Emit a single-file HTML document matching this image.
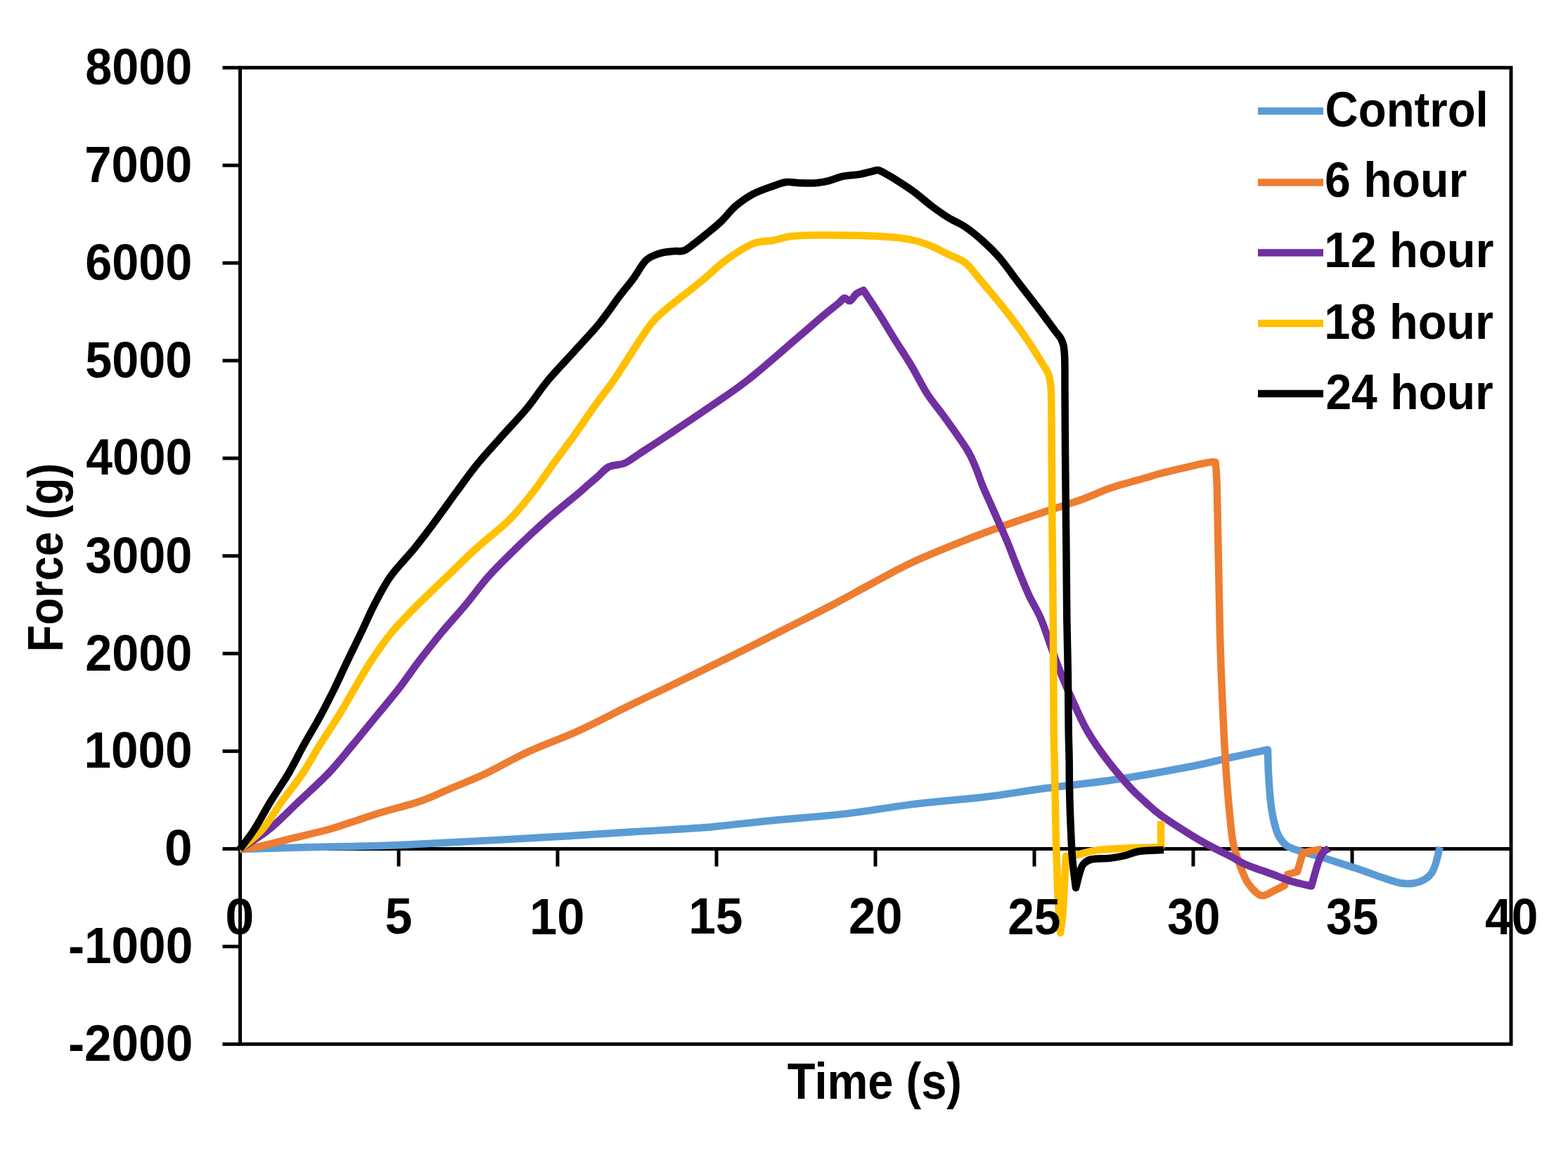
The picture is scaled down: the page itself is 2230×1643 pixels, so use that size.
<!DOCTYPE html>
<html><head><meta charset="utf-8"><title>Force vs Time</title>
<style>html,body{margin:0;padding:0;background:#fff;overflow:hidden;}svg{display:block;}</style>
</head><body>
<svg xmlns="http://www.w3.org/2000/svg" width="2230" height="1643" viewBox="0 0 2230 1643">
<rect x="0" y="0" width="2230" height="1643" fill="#ffffff"/>
<path d="M341.5,96.3 H2149.0 V1485.3 H341.5 Z" fill="none" stroke="#000" stroke-width="5" stroke-linejoin="miter"/>
<line x1="316.5" y1="1485.3" x2="341.5" y2="1485.3" stroke="#000" stroke-width="5"/>
<line x1="316.5" y1="1346.4" x2="341.5" y2="1346.4" stroke="#000" stroke-width="5"/>
<line x1="316.5" y1="1207.5" x2="341.5" y2="1207.5" stroke="#000" stroke-width="5"/>
<line x1="316.5" y1="1068.6" x2="341.5" y2="1068.6" stroke="#000" stroke-width="5"/>
<line x1="316.5" y1="929.7" x2="341.5" y2="929.7" stroke="#000" stroke-width="5"/>
<line x1="316.5" y1="790.8" x2="341.5" y2="790.8" stroke="#000" stroke-width="5"/>
<line x1="316.5" y1="651.9" x2="341.5" y2="651.9" stroke="#000" stroke-width="5"/>
<line x1="316.5" y1="513.0" x2="341.5" y2="513.0" stroke="#000" stroke-width="5"/>
<line x1="316.5" y1="374.1" x2="341.5" y2="374.1" stroke="#000" stroke-width="5"/>
<line x1="316.5" y1="235.2" x2="341.5" y2="235.2" stroke="#000" stroke-width="5"/>
<line x1="316.5" y1="96.3" x2="341.5" y2="96.3" stroke="#000" stroke-width="5"/>
<line x1="341.5" y1="1207.5" x2="2149.0" y2="1207.5" stroke="#000" stroke-width="5"/>
<line x1="567.0" y1="1207.5" x2="567.0" y2="1232.5" stroke="#000" stroke-width="5"/>
<line x1="793.0" y1="1207.5" x2="793.0" y2="1232.5" stroke="#000" stroke-width="5"/>
<line x1="1019.0" y1="1207.5" x2="1019.0" y2="1232.5" stroke="#000" stroke-width="5"/>
<line x1="1245.0" y1="1207.5" x2="1245.0" y2="1232.5" stroke="#000" stroke-width="5"/>
<line x1="1471.0" y1="1207.5" x2="1471.0" y2="1232.5" stroke="#000" stroke-width="5"/>
<line x1="1697.0" y1="1207.5" x2="1697.0" y2="1232.5" stroke="#000" stroke-width="5"/>
<line x1="1923.0" y1="1207.5" x2="1923.0" y2="1232.5" stroke="#000" stroke-width="5"/>
<path d="M341.0,1208.0 C355.2,1207.6 399.4,1206.2 426.1,1205.5 C452.9,1204.8 475.9,1204.6 501.5,1203.9 C527.1,1203.2 531.9,1203.8 580.0,1201.5 C628.1,1199.2 736.7,1193.3 790.0,1190.3 C843.3,1187.3 865.0,1185.5 900.0,1183.3 C935.0,1181.1 966.7,1180.0 1000.0,1177.3 C1033.3,1174.6 1066.7,1170.1 1100.0,1166.9 C1133.3,1163.7 1166.7,1161.7 1200.0,1157.9 C1233.3,1154.1 1266.7,1147.9 1300.0,1143.9 C1333.3,1139.9 1370.0,1137.4 1400.0,1133.8 C1430.0,1130.2 1448.7,1126.5 1480.0,1122.3 C1511.3,1118.1 1551.7,1114.2 1587.6,1108.8 C1623.5,1103.4 1668.3,1095.2 1695.2,1090.0 C1722.1,1084.8 1731.0,1081.7 1749.0,1077.8 C1767.0,1073.9 1794.0,1068.4 1803.0,1066.5 C1803.2,1072.1 1803.3,1087.8 1804.0,1100.0 C1804.7,1112.2 1805.8,1129.2 1807.0,1140.0 C1808.2,1150.8 1809.2,1157.0 1811.0,1165.0 C1812.8,1173.0 1814.8,1181.7 1818.0,1188.0 C1821.2,1194.3 1824.7,1199.2 1830.0,1203.0 C1835.3,1206.8 1842.5,1208.5 1850.0,1211.0 C1857.5,1213.5 1866.7,1215.5 1875.0,1218.0 C1883.3,1220.5 1889.7,1222.7 1900.0,1226.0 C1910.3,1229.3 1926.2,1234.3 1937.0,1238.0 C1947.8,1241.7 1956.0,1245.0 1965.0,1248.0 C1974.0,1251.0 1983.5,1254.6 1991.0,1256.0 C1998.5,1257.4 2004.2,1257.3 2010.0,1256.5 C2015.8,1255.7 2021.7,1253.4 2026.0,1251.0 C2030.3,1248.6 2033.3,1245.8 2036.0,1242.0 C2038.7,1238.2 2040.0,1234.2 2042.0,1228.0 C2044.0,1221.8 2046.8,1208.8 2047.7,1205.0" fill="none" stroke="#5B9BD5" stroke-width="10.5" stroke-linejoin="round" stroke-linecap="butt"/>
<path d="M341.0,1208.0 C346.2,1207.2 359.9,1205.9 372.3,1203.3 C384.7,1200.7 399.5,1196.5 415.3,1192.6 C431.1,1188.7 452.6,1183.9 467.0,1180.0 C481.4,1176.1 488.6,1173.2 501.5,1169.0 C514.4,1164.8 528.6,1159.8 544.5,1155.0 C560.4,1150.2 581.1,1145.5 597.0,1140.0 C612.9,1134.5 624.2,1128.7 640.0,1122.0 C655.8,1115.3 673.3,1108.7 691.6,1100.0 C709.9,1091.3 728.3,1080.0 750.0,1070.0 C771.7,1060.0 798.4,1050.7 821.9,1040.0 C845.4,1029.3 870.5,1015.8 890.9,1005.8 C911.3,995.8 926.2,988.8 944.4,980.0 C962.6,971.2 979.6,963.0 1000.0,953.0 C1020.4,943.0 1046.9,930.0 1066.9,920.0 C1086.9,910.0 1100.3,903.0 1120.0,893.0 C1139.7,883.0 1164.8,870.5 1184.8,860.0 C1204.8,849.5 1221.2,840.0 1240.0,830.0 C1258.8,820.0 1275.9,810.0 1297.4,800.0 C1318.9,790.0 1346.9,778.8 1368.8,770.0 C1390.7,761.2 1408.6,754.7 1428.7,747.5 C1448.8,740.3 1471.0,733.0 1489.6,726.8 C1508.1,720.5 1524.9,715.5 1540.0,710.0 C1555.1,704.5 1565.3,699.0 1580.0,694.0 C1594.7,689.0 1616.8,683.3 1628.3,680.0 C1639.8,676.7 1637.2,677.0 1648.7,674.0 C1660.2,671.0 1685.2,665.1 1697.4,662.3 C1709.6,659.5 1716.5,658.2 1721.7,657.4 C1726.9,656.6 1727.4,657.4 1728.5,657.4 C1728.9,664.5 1729.9,659.6 1731.0,700.0 C1732.1,740.4 1733.6,846.7 1735.0,900.0 C1736.4,953.3 1738.0,986.7 1739.5,1020.0 C1741.0,1053.3 1742.4,1076.7 1744.0,1100.0 C1745.6,1123.3 1747.5,1144.2 1749.0,1160.0 C1750.5,1175.8 1751.5,1185.8 1753.0,1195.0 C1754.5,1204.2 1756.0,1208.3 1758.0,1215.0 C1760.0,1221.7 1762.3,1228.3 1765.0,1235.0 C1767.7,1241.7 1770.3,1249.2 1774.0,1255.0 C1777.7,1260.8 1783.2,1266.8 1787.0,1270.0 C1790.8,1273.2 1792.8,1274.5 1797.0,1274.0 C1801.2,1273.5 1807.0,1269.4 1812.0,1267.0 C1817.0,1264.6 1824.5,1260.8 1827.0,1259.5 C1827.7,1256.9 1830.3,1246.6 1831.0,1244.0 C1833.3,1243.3 1842.7,1240.7 1845.0,1240.0 C1846.3,1235.5 1851.7,1217.5 1853.0,1213.0 C1857.5,1212.2 1875.5,1208.8 1880.0,1208.0" fill="none" stroke="#ED7D31" stroke-width="10.5" stroke-linejoin="round" stroke-linecap="butt"/>
<path d="M341.0,1208.0 C347.9,1203.3 368.6,1191.3 382.6,1180.0 C396.6,1168.7 411.0,1153.3 425.1,1140.0 C439.2,1126.7 454.4,1113.3 467.1,1100.0 C479.8,1086.7 490.1,1073.3 501.3,1060.0 C512.5,1046.7 523.2,1033.3 534.1,1020.0 C545.0,1006.7 556.5,993.3 566.9,980.0 C577.2,966.7 586.0,953.3 596.2,940.0 C606.4,926.7 616.9,913.3 627.9,900.0 C638.9,886.7 651.4,873.3 662.5,860.0 C673.6,846.7 682.8,833.3 694.7,820.0 C706.6,806.7 720.3,793.3 734.0,780.0 C747.7,766.7 762.6,752.7 776.9,740.0 C791.2,727.3 810.1,712.3 820.0,704.0 C829.9,695.7 831.0,694.3 836.0,690.0 C841.0,685.7 845.0,682.3 850.0,678.0 C855.0,673.7 859.7,667.2 866.0,664.0 C872.3,660.8 880.7,662.1 888.0,659.0 C895.3,655.9 899.6,651.8 909.6,645.3 C919.6,638.8 931.9,630.9 948.3,620.0 C964.6,609.1 988.4,593.3 1007.7,580.0 C1027.0,566.7 1043.1,556.7 1064.3,540.0 C1085.5,523.3 1117.2,495.0 1134.8,480.0 C1152.3,465.0 1159.9,458.2 1169.6,450.0 C1179.3,441.8 1187.8,435.3 1193.0,431.0 C1198.2,426.7 1198.3,424.5 1201.0,424.0 C1203.7,423.5 1206.2,429.0 1209.0,428.0 C1211.8,427.0 1214.8,420.5 1218.0,418.0 C1221.2,415.5 1226.3,413.8 1228.0,413.0 C1229.9,415.8 1235.2,423.8 1239.3,430.0 C1243.4,436.2 1247.2,441.7 1252.4,450.0 C1257.6,458.3 1263.4,468.3 1270.7,480.0 C1278.0,491.7 1288.0,506.7 1296.0,520.0 C1304.0,533.3 1310.7,547.8 1318.5,560.0 C1326.3,572.2 1333.5,579.7 1343.0,593.0 C1352.5,606.3 1368.1,627.8 1375.6,640.0 C1383.1,652.2 1384.4,657.7 1388.0,666.0 C1391.6,674.3 1393.3,681.0 1397.0,690.0 C1400.7,699.0 1404.3,706.7 1410.2,720.0 C1416.1,733.3 1426.7,756.7 1432.3,770.0 C1437.9,783.3 1438.9,787.3 1444.0,800.0 C1449.1,812.7 1457.0,832.7 1463.0,846.0 C1469.0,859.3 1474.6,866.6 1480.3,880.0 C1486.0,893.4 1492.1,913.2 1497.0,926.5 C1501.9,939.8 1504.6,947.8 1509.6,960.0 C1514.6,972.2 1520.8,986.7 1527.0,1000.0 C1533.2,1013.3 1538.7,1026.7 1546.5,1040.0 C1554.3,1053.3 1563.6,1066.7 1573.7,1080.0 C1583.8,1093.3 1597.9,1109.8 1607.1,1120.0 C1616.3,1130.2 1621.6,1134.3 1629.0,1141.0 C1636.4,1147.7 1639.9,1151.8 1651.3,1160.0 C1662.7,1168.2 1685.0,1182.3 1697.4,1190.0 C1709.9,1197.7 1717.2,1201.3 1726.0,1206.0 C1734.8,1210.7 1742.3,1214.0 1750.0,1218.0 C1757.7,1222.0 1762.4,1225.8 1772.1,1230.0 C1781.8,1234.2 1797.0,1239.0 1808.0,1243.0 C1819.0,1247.0 1828.5,1251.1 1838.0,1254.0 C1847.5,1256.9 1860.5,1259.4 1865.0,1260.5 C1866.6,1255.0 1871.8,1235.4 1874.6,1227.4 C1877.3,1219.5 1878.9,1216.2 1881.5,1212.8 C1884.1,1209.4 1888.8,1207.9 1890.2,1206.9" fill="none" stroke="#7030A0" stroke-width="10.5" stroke-linejoin="round" stroke-linecap="butt"/>
<path d="M341.0,1208.0 C346.3,1203.3 363.0,1191.3 373.0,1180.0 C383.0,1168.7 391.4,1153.3 401.0,1140.0 C410.6,1126.7 421.6,1113.3 430.5,1100.0 C439.4,1086.7 446.3,1073.3 454.6,1060.0 C462.9,1046.7 472.2,1033.3 480.4,1020.0 C488.6,1006.7 496.0,993.3 503.9,980.0 C511.8,966.7 519.2,953.3 528.0,940.0 C536.8,926.7 545.8,913.3 556.8,900.0 C567.8,886.7 581.1,873.3 594.3,860.0 C607.5,846.7 621.9,833.3 635.8,820.0 C649.6,806.7 662.7,793.3 677.4,780.0 C692.1,766.7 710.4,753.3 723.8,740.0 C737.2,726.7 749.9,710.0 758.0,700.0 C766.1,690.0 767.8,686.7 772.6,680.0 C777.4,673.3 779.5,670.0 786.8,660.0 C794.1,650.0 806.7,633.3 816.2,620.0 C825.7,606.7 834.5,593.3 844.0,580.0 C853.5,566.7 864.3,553.3 873.5,540.0 C882.7,526.7 890.6,513.3 899.4,500.0 C908.2,486.7 918.6,470.0 926.5,460.0 C934.4,450.0 935.2,450.0 947.0,440.0 C958.8,430.0 983.1,411.7 997.4,400.0 C1011.6,388.3 1020.4,378.8 1032.5,370.0 C1044.6,361.2 1058.8,351.7 1070.0,347.0 C1081.2,342.3 1091.0,343.8 1100.0,342.0 C1109.0,340.2 1113.8,337.6 1124.0,336.3 C1134.2,335.1 1144.7,334.7 1161.0,334.5 C1177.3,334.3 1203.8,334.5 1222.0,335.0 C1240.2,335.5 1257.0,336.4 1270.0,337.6 C1283.0,338.8 1291.0,340.0 1300.0,342.0 C1309.0,344.0 1315.8,346.5 1324.0,349.8 C1332.2,353.1 1340.8,358.0 1349.0,362.0 C1357.2,366.0 1365.2,367.7 1373.0,374.0 C1380.8,380.3 1386.3,389.0 1395.6,400.0 C1404.9,411.0 1418.3,426.7 1428.8,440.0 C1439.3,453.3 1449.4,466.7 1458.6,480.0 C1467.8,493.3 1478.6,510.8 1484.2,520.0 C1489.8,529.2 1490.2,528.3 1492.0,535.0 C1493.8,541.7 1494.4,542.5 1495.0,560.0 C1495.6,577.5 1495.5,613.3 1495.7,640.0 C1495.9,666.7 1496.0,693.3 1496.2,720.0 C1496.4,746.7 1496.7,773.3 1497.0,800.0 C1497.3,826.7 1497.5,840.0 1497.8,880.0 C1498.1,920.0 1498.4,1006.7 1498.7,1040.0 C1499.0,1073.3 1499.3,1066.7 1499.6,1080.0 C1499.9,1093.3 1500.0,1100.0 1500.4,1120.0 C1500.8,1140.0 1501.4,1176.7 1502.0,1200.0 C1502.6,1223.3 1503.3,1243.3 1504.0,1260.0 C1504.7,1276.7 1505.3,1288.8 1506.0,1300.0 C1506.7,1311.2 1507.7,1322.5 1508.0,1327.0 C1508.6,1322.5 1510.5,1312.2 1511.5,1300.0 C1512.5,1287.8 1513.2,1267.7 1514.0,1254.0 C1514.8,1240.3 1515.7,1224.0 1516.0,1218.0 C1518.7,1217.7 1524.7,1217.4 1532.0,1216.0 C1539.3,1214.6 1546.2,1211.1 1560.0,1209.4 C1573.8,1207.7 1599.8,1206.7 1615.0,1206.0 C1630.2,1205.3 1645.0,1205.2 1651.0,1205.0 C1651.0,1198.8 1651.0,1174.2 1651.0,1168.0" fill="none" stroke="#FFC000" stroke-width="10.5" stroke-linejoin="round" stroke-linecap="butt"/>
<path d="M341.0,1208.0 C344.4,1203.3 354.3,1191.3 361.6,1180.0 C368.9,1168.7 376.8,1153.3 384.9,1140.0 C393.0,1126.7 402.7,1113.3 410.5,1100.0 C418.3,1086.7 424.5,1073.3 431.9,1060.0 C439.3,1046.7 447.6,1033.3 454.8,1020.0 C462.1,1006.7 468.8,993.3 475.4,980.0 C482.0,966.7 487.8,953.3 494.2,940.0 C500.6,926.7 507.2,913.3 513.6,900.0 C520.0,886.7 525.5,873.3 532.5,860.0 C539.5,846.7 545.9,833.3 555.4,820.0 C564.9,806.7 578.6,793.3 589.4,780.0 C600.2,766.7 610.1,753.3 620.0,740.0 C629.9,726.7 639.2,713.3 649.0,700.0 C658.8,686.7 668.1,673.3 679.0,660.0 C689.9,646.7 702.4,633.3 714.2,620.0 C726.1,606.7 739.1,593.3 750.1,580.0 C761.1,566.7 769.1,553.3 780.2,540.0 C791.3,526.7 804.6,513.3 816.6,500.0 C828.6,486.7 841.6,473.3 852.5,460.0 C863.4,446.7 874.1,430.4 882.0,420.0 C889.9,409.6 893.8,405.7 900.0,397.4 C906.2,389.1 912.6,376.3 919.0,370.1 C925.4,363.9 931.9,362.5 938.4,360.4 C944.9,358.3 952.2,358.0 957.9,357.4 C963.6,356.8 967.6,358.3 972.5,356.5 C977.4,354.7 981.4,350.9 987.1,346.7 C992.8,342.5 1000.1,336.5 1006.6,331.2 C1013.1,325.9 1019.4,320.9 1026.0,314.6 C1032.6,308.3 1038.6,299.7 1046.0,293.3 C1053.4,286.9 1061.4,281.1 1070.4,276.3 C1079.4,271.5 1092.0,267.4 1100.0,264.5 C1108.0,261.6 1112.2,259.7 1118.3,259.0 C1124.4,258.3 1129.4,260.1 1136.5,260.3 C1143.6,260.5 1153.8,260.8 1160.9,260.3 C1168.0,259.8 1173.0,258.7 1179.1,257.2 C1185.2,255.7 1190.3,252.6 1197.4,251.1 C1204.5,249.6 1214.6,249.3 1221.7,248.1 C1228.8,246.9 1235.5,244.8 1240.0,243.8 C1244.5,242.8 1245.5,241.6 1248.5,242.0 C1251.5,242.4 1253.5,243.8 1258.2,246.3 C1262.9,248.8 1269.5,252.8 1276.5,257.2 C1283.5,261.6 1292.0,267.1 1300.0,273.0 C1308.0,278.9 1316.2,286.5 1324.3,292.6 C1332.4,298.7 1340.6,304.5 1348.7,309.6 C1356.8,314.7 1364.9,317.5 1373.0,323.0 C1381.1,328.5 1389.3,335.2 1397.4,342.5 C1405.5,349.8 1413.5,357.3 1421.7,366.9 C1430.0,376.5 1437.6,387.8 1446.9,400.0 C1456.2,412.2 1469.0,428.3 1477.8,440.0 C1486.6,451.7 1494.6,462.7 1500.0,470.0 C1505.4,477.3 1507.7,478.2 1510.0,484.0 C1512.3,489.8 1513.2,492.3 1514.0,505.0 C1514.8,517.7 1514.3,537.5 1514.5,560.0 C1514.7,582.5 1514.7,605.0 1515.0,640.0 C1515.3,675.0 1515.9,730.0 1516.3,770.0 C1516.7,810.0 1516.9,848.3 1517.3,880.0 C1517.7,911.7 1518.5,933.3 1518.9,960.0 C1519.3,986.7 1519.4,1020.0 1519.7,1040.0 C1520.0,1060.0 1520.4,1066.7 1520.6,1080.0 C1520.8,1093.3 1520.7,1105.0 1521.0,1120.0 C1521.3,1135.0 1521.8,1153.3 1522.5,1170.0 C1523.2,1186.7 1523.8,1204.5 1525.0,1220.0 C1526.2,1235.5 1529.2,1255.8 1530.0,1263.0 C1531.0,1259.2 1534.2,1245.7 1536.0,1240.0 C1537.8,1234.3 1538.3,1231.9 1541.0,1229.0 C1543.7,1226.1 1545.5,1223.9 1552.0,1222.5 C1558.5,1221.1 1572.0,1221.5 1580.0,1220.6 C1588.0,1219.7 1593.3,1218.6 1600.0,1217.0 C1606.7,1215.4 1610.8,1212.3 1620.0,1211.0 C1629.2,1209.7 1649.2,1209.3 1655.0,1209.0" fill="none" stroke="#000000" stroke-width="10.5" stroke-linejoin="round" stroke-linecap="butt"/>
<g font-family="'Liberation Sans', Arial, sans-serif" font-weight="bold" fill="#000"><text x="96.90" y="1509.40" font-size="72" textLength="177.33" lengthAdjust="spacingAndGlyphs">-2000</text>
<text x="96.90" y="1369.80" font-size="72" textLength="177.33" lengthAdjust="spacingAndGlyphs">-1000</text>
<text x="234.03" y="1230.70" font-size="72" textLength="39.48" lengthAdjust="spacingAndGlyphs">0</text>
<text x="119.38" y="1092.10" font-size="72" textLength="154.00" lengthAdjust="spacingAndGlyphs">1000</text>
<text x="121.34" y="953.50" font-size="72" textLength="152.01" lengthAdjust="spacingAndGlyphs">2000</text>
<text x="121.28" y="814.90" font-size="72" textLength="152.06" lengthAdjust="spacingAndGlyphs">3000</text>
<text x="122.24" y="675.30" font-size="72" textLength="151.09" lengthAdjust="spacingAndGlyphs">4000</text>
<text x="121.34" y="536.70" font-size="72" textLength="152.01" lengthAdjust="spacingAndGlyphs">5000</text>
<text x="121.34" y="398.10" font-size="72" textLength="152.01" lengthAdjust="spacingAndGlyphs">6000</text>
<text x="120.32" y="259.00" font-size="72" textLength="153.04" lengthAdjust="spacingAndGlyphs">7000</text>
<text x="121.34" y="119.90" font-size="72" textLength="152.01" lengthAdjust="spacingAndGlyphs">8000</text>
<text x="320.32" y="1328.70" font-size="72" textLength="41.12" lengthAdjust="spacingAndGlyphs">0</text>
<text x="547.46" y="1328.20" font-size="72" textLength="38.83" lengthAdjust="spacingAndGlyphs">5</text>
<text x="753.09" y="1329.20" font-size="72" textLength="78.44" lengthAdjust="spacingAndGlyphs">10</text>
<text x="979.16" y="1328.20" font-size="72" textLength="77.36" lengthAdjust="spacingAndGlyphs">15</text>
<text x="1207.12" y="1328.20" font-size="72" textLength="76.32" lengthAdjust="spacingAndGlyphs">20</text>
<text x="1433.16" y="1328.70" font-size="72" textLength="75.30" lengthAdjust="spacingAndGlyphs">25</text>
<text x="1660.10" y="1328.70" font-size="72" textLength="75.30" lengthAdjust="spacingAndGlyphs">30</text>
<text x="1886.12" y="1328.70" font-size="72" textLength="74.31" lengthAdjust="spacingAndGlyphs">35</text>
<text x="2112.04" y="1328.70" font-size="72" textLength="75.36" lengthAdjust="spacingAndGlyphs">40</text>
<text x="1119.87" y="1563.30" font-size="72" textLength="248.12" lengthAdjust="spacingAndGlyphs">Time (s)</text>
<text transform="translate(88.95,927.42) rotate(-90)" x="0" y="0" font-size="71" textLength="268.71" lengthAdjust="spacingAndGlyphs">Force (g)</text>
<text x="1884.61" y="179.80" font-size="71" textLength="232.06" lengthAdjust="spacingAndGlyphs">Control</text>
<text x="1883.96" y="279.60" font-size="71" textLength="202.33" lengthAdjust="spacingAndGlyphs">6 hour</text>
<text x="1883.28" y="380.45" font-size="71" textLength="241.19" lengthAdjust="spacingAndGlyphs">12 hour</text>
<text x="1883.29" y="481.55" font-size="71" textLength="240.74" lengthAdjust="spacingAndGlyphs">18 hour</text>
<text x="1885.38" y="581.85" font-size="71" textLength="238.41" lengthAdjust="spacingAndGlyphs">24 hour</text></g>
<line x1="1789" y1="158" x2="1882" y2="158" stroke="#5B9BD5" stroke-width="10.5"/>
<line x1="1789" y1="259.5" x2="1882" y2="259.5" stroke="#ED7D31" stroke-width="10.5"/>
<line x1="1789" y1="359.5" x2="1882" y2="359.5" stroke="#7030A0" stroke-width="10.5"/>
<line x1="1789" y1="460" x2="1882" y2="460" stroke="#FFC000" stroke-width="10.5"/>
<line x1="1789" y1="560" x2="1882" y2="560" stroke="#000000" stroke-width="10.5"/>
</svg>
</body></html>
